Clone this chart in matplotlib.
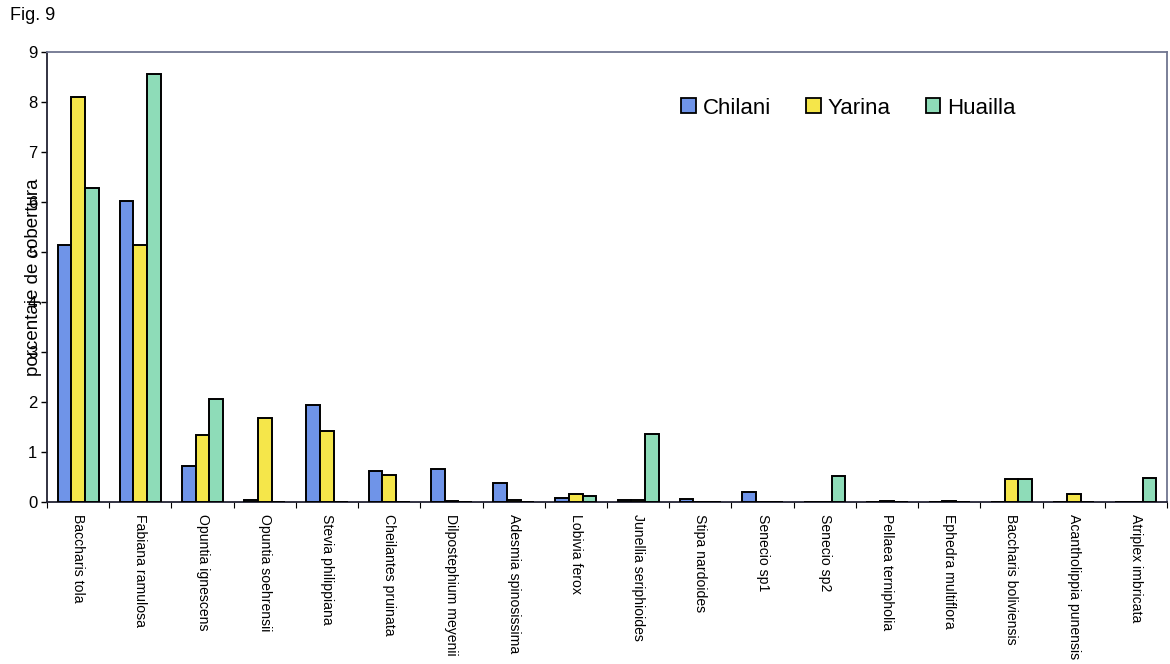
import numpy as np
import matplotlib
matplotlib.use("Agg")
import matplotlib.pyplot as plt
from matplotlib.patches import Rectangle

plt.rcParams['font.family'] = ['Liberation Sans', 'DejaVu Sans']

species = [
    "Baccharis tola", "Fabiana ramulosa", "Opuntia ignescens", "Opuntia soehrensii",
    "Stevia philippiana", "Cheilantes pruinata", "Dilpostephium meyenii",
    "Adesmia spinosissima", "Lobivia ferox", "Junellia seriphioides",
    "Stipa nardoides", "Senecio sp1", "Senecio sp2", "Pellaea ternipholia",
    "Ephedra multiflora", "Baccharis boliviensis", "Acantholippia punensis",
    "Atriplex imbricata",
]
chilani = [5.15, 6.03, 0.72, 0.04, 1.95, 0.62, 0.67, 0.38, 0.09, 0.05,
           0.07, 0.21, 0.0, 0.0, 0.0, 0.0, 0.0, 0.0]
yarina = [8.10, 5.15, 1.34, 1.69, 1.43, 0.54, 0.03, 0.04, 0.17, 0.05,
          0.0, 0.0, 0.0, 0.03, 0.02, 0.47, 0.17, 0.0]
huailla = [6.28, 8.55, 2.06, 0.0, 0.0, 0.0, 0.0, 0.0, 0.13, 1.37,
           0.0, 0.0, 0.52, 0.0, 0.0, 0.47, 0.0, 0.49]

series_names = ["Chilani", "Yarina", "Huailla"]
series_vals = [chilani, yarina, huailla]
colors = ["#6f94e8", "#f5e64a", "#8edcb8"]

W, H = 1170, 664
fig = plt.figure(figsize=(W / 100, H / 100), dpi=100)
ax = fig.add_axes([47 / W, 1 - 502 / H, (1167 - 47) / W, (502 - 52) / H])

n = len(species)
x = np.arange(n)
bw = 0.22
for k, (name, vals, col) in enumerate(zip(series_names, series_vals, colors)):
    ax.bar(x + (k - 1) * bw, vals, width=bw, color=col, edgecolor="black",
           linewidth=1.4, label=name, zorder=3)

ax.set_xlim(-0.5, n - 0.5)
ax.set_ylim(0, 9)
ax.set_yticks(range(0, 10))
ax.tick_params(axis="y", length=4, width=1, pad=3, labelsize=12, direction="out")

ax.set_xticks(x)
ax.set_xticklabels(species, rotation=-90, ha="center", va="top", fontsize=10.1)
ax.tick_params(axis="x", which="major", length=0, pad=9)
ax.set_xticks(np.arange(-0.5, n), minor=True)
ax.tick_params(axis="x", which="minor", length=4, width=0.8, direction="out")

for side in ("left", "bottom"):
    ax.spines[side].set_color("#222233")
    ax.spines[side].set_linewidth(1.3)
for side in ("top", "right"):
    ax.spines[side].set_color("#6f7590")
    ax.spines[side].set_linewidth(1.3)

# axis title sits over the 3-6 tick labels, as in the printed figure
fig.text(34 / W, 1 - 277 / H, "porcentaje de cobertura", rotation=90,
         ha="center", va="center", fontsize=13.5)
fig.text(10 / W, 1 - 16 / H, "Fig. 9", ha="left", va="center", fontsize=13)

handles = [Rectangle((0, 0), 1, 1, facecolor=c, edgecolor="black", linewidth=1.3)
           for c in colors]
fig.legend(handles, series_names, loc="center",
           bbox_to_anchor=((677 + 1020) / 2 / W, 1 - 108 / H),
           ncol=3, frameon=False, fontsize=16, handlelength=0.65,
           handleheight=0.65, handletextpad=0.3, columnspacing=1.6)

fig.savefig("out.png", dpi=100)
